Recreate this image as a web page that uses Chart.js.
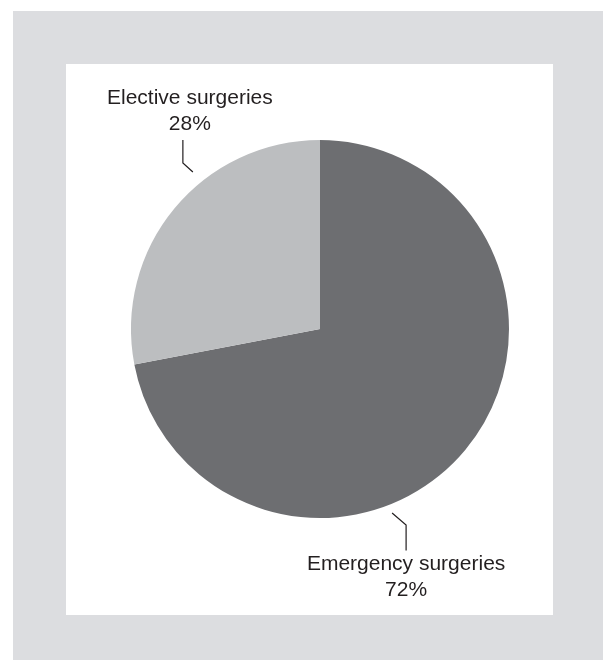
<!DOCTYPE html>
<html>
<head>
<meta charset="utf-8">
<script src="https://cdn.jsdelivr.net/npm/chart.js@4.4.1/dist/chart.umd.min.js"></script>
<style>
body{margin:0;background:#fff;}
canvas{display:block;}
</style>
</head>
<body>
<canvas id="myChart" width="603" height="660"></canvas>
<script>
'use strict';
let categories=['Emergency surgeries','Elective surgeries'];
let shares=[72,28];
let percentLabels=['72%','28%'];
let sliceColors=['#6d6e71','#bcbec0'];

// leader line layout for each slice: angle clockwise from top, gap off the rim,
// elbow, vertical run, and where the two text lines sit
let leaders=[
  {angle:158.6,gap:8.6,elbow:[14,12],run:25.5,textDx:0,textDy:19.5},
  {angle:321,gap:13,elbow:[-10,-9],run:-23,textDx:7,textDy:-10}
];

let framePlugin={
  id:'frame',
  beforeDraw(chart){
    let ctx=chart.ctx;
    ctx.save();
    ctx.fillStyle='#fff';
    ctx.fillRect(0,0,chart.width,chart.height);
    ctx.fillStyle='#dcdde0';
    ctx.fillRect(13,11,chart.width-13,chart.height-11);
    ctx.fillStyle='#fff';
    ctx.fillRect(66,64,487,551);
    ctx.restore();
  }
};

let labelPlugin={
  id:'leaderLabels',
  afterDatasetsDraw(chart){
    let ctx=chart.ctx;
    let arcs=chart.getDatasetMeta(0).data;
    ctx.save();
    ctx.strokeStyle='#231f20';
    ctx.lineWidth=1.2;
    ctx.fillStyle='#231f20';
    ctx.font='21px "Liberation Sans", Arial, sans-serif';
    ctx.textAlign='center';
    for(let i=0;i<arcs.length;i++)
    {
      let arc=arcs[i];
      let L=leaders[i];
      let a=L.angle*Math.PI/180;
      let r=arc.outerRadius+L.gap;
      let sx=arc.x+r*Math.sin(a);
      let sy=arc.y-r*Math.cos(a);
      let ex=sx+L.elbow[0];
      let ey=sy+L.elbow[1];
      let vy=ey+L.run;
      ctx.beginPath();
      ctx.moveTo(sx,sy);
      ctx.lineTo(ex,ey);
      ctx.lineTo(ex,vy);
      ctx.stroke();
      let tx=ex+L.textDx;
      if(L.run>0)
      {
        ctx.fillText(categories[i],tx,vy+L.textDy);
        ctx.fillText(percentLabels[i],tx,vy+L.textDy+26);
      }
      else
      {
        ctx.fillText(percentLabels[i],tx,vy+L.textDy);
        ctx.fillText(categories[i],tx,vy+L.textDy-26);
      }
    }
    ctx.restore();
  }
};

let ctx=document.getElementById('myChart').getContext('2d');
let myChart=new Chart(ctx,{
  type:'pie',
  data:{
    labels:categories,
    datasets:[{
      data:shares,
      backgroundColor:sliceColors,
      borderWidth:0
    }]
  },
  options:{
    responsive:false,
    animation:false,
    layout:{padding:{left:131,right:94,top:140,bottom:142}},
    plugins:{
      legend:{display:false},
      tooltip:{enabled:false}
    }
  },
  plugins:[framePlugin,labelPlugin]
});
</script>
</body>
</html>
